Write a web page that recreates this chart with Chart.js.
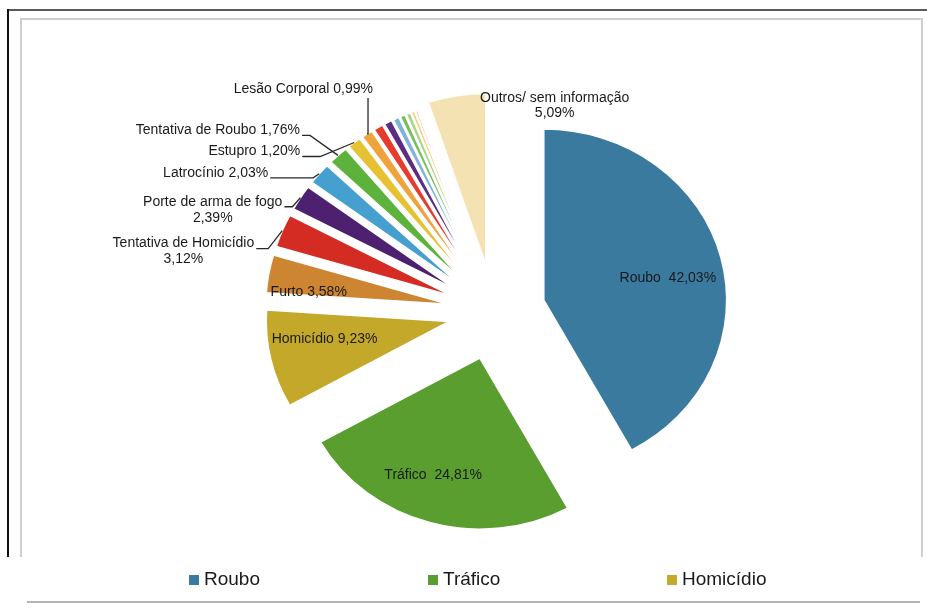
<!DOCTYPE html>
<html>
<head>
<meta charset="utf-8">
<script src="https://cdn.jsdelivr.net/npm/chart.js@4.4.0/dist/chart.umd.min.js"></script>
<style>
  html, body { margin: 0; padding: 0; background: #fff; }
</style>
</head>
<body>
<canvas id="crimesChart" width="927" height="608"></canvas>
<script>
// categorias (as 10 fatias finas sem rótulo não aparecem no gráfico)
const categories = [
  'Roubo', 'Tráfico', 'Homicídio', 'Furto', 'Tentativa de Homicídio',
  'Porte de arma de fogo', 'Latrocínio', 'Tentativa de Roubo', 'Estupro', 'Lesão Corporal',
  'Categoria 11', 'Categoria 12', 'Categoria 13', 'Categoria 14', 'Categoria 15',
  'Categoria 16', 'Categoria 17', 'Categoria 18', 'Categoria 19', 'Categoria 20',
  'Outros/ sem informação'
];
const percentages = [
  42.03, 24.81, 9.23, 3.58, 3.12,
  2.39, 2.03, 1.76, 1.20, 0.99,
  0.85, 0.70, 0.55, 0.45, 0.40,
  0.30, 0.20, 0.15, 0.10, 0.07,
  5.09
];
const legendCategories = ['Roubo', 'Tráfico', 'Homicídio'];

const sliceColors = [
  '#3a7a9f', '#5a9e2f', '#c4a82a', '#cd8531', '#d42b23',
  '#4e2170', '#45a0cf', '#5cb23a', '#e6c131', '#f0a23c',
  '#e63b2d', '#5c2d82', '#7fb3da', '#79bf5a', '#a9d48a',
  '#f4d27a', '#f6b98a', '#f19a9a', '#b49ad0', '#8aa2dc',
  '#f5e2b2'
];

// afastamento das fatias (as três maiores e "Outros" um pouco mais)
const explodeBy = i => (i < 2 || i === 20) ? 48 : 43;
const STRETCH_X = 1.07; // a pizza original é levemente achatada

// posição dos rótulos (fração do raio p/ internos; deslocamento + cotovelo p/ externos)
const labelStyle = {
  0: { inside: 0.70, dy: 8, sep: '  ' },
  1: { inside: 0.71, dx: -11, sep: '  ' },
  2: { inside: 0.67, dx: -5, dy: -8 },
  3: { inside: 0.75, dx: -5, dy: 11 },
  4: { dx: -26, dy: 18, elbow: 12, wrap: true },
  5: { dx: -16, dy: 9, elbow: 8, wrap: true },
  6: { dx: -49, dy: 4, elbow: 43 },
  7: { dx: -36, dy: -20, elbow: 8 },
  8: { dx: -52, dy: 14, elbow: 18 },
  9: { dx: 1, dy: -36, above: true },
  20: { dx: 98, dy: 2, wrap: true, plain: true }
};

const fmt = v => v.toFixed(2).replace('.', ',') + '%';

const explodePlugin = {
  id: 'explode',
  afterDatasetsUpdate(chart) {
    chart.getDatasetMeta(0).data.forEach((arc, i) => {
      const mid = (arc.startAngle + arc.endAngle) / 2;
      arc.x += Math.cos(mid) * explodeBy(i);
      arc.y += Math.sin(mid) * explodeBy(i);
    });
  }
};

const centerX = chart => (chart.chartArea.left + chart.chartArea.right) / 2;

const stretchPlugin = {
  id: 'stretch',
  beforeDatasetsDraw(chart) {
    const ctx = chart.ctx;
    const cx = centerX(chart);
    ctx.save();
    ctx.translate(cx, 0);
    ctx.scale(STRETCH_X, 1);
    ctx.translate(-cx, 0);
  },
  afterDatasetsDraw(chart) {
    chart.ctx.restore();
  }
};

const framePlugin = {
  id: 'frame',
  beforeDraw(chart) {
    const ctx = chart.ctx;
    ctx.save();
    ctx.fillStyle = '#fff';
    ctx.fillRect(0, 0, chart.width, chart.height);
    ctx.lineWidth = 2;
    ctx.strokeStyle = '#5a5a5a';
    ctx.beginPath(); ctx.moveTo(8, 10); ctx.lineTo(927, 10); ctx.stroke();
    ctx.strokeStyle = '#111';
    ctx.beginPath(); ctx.moveTo(8, 9); ctx.lineTo(8, 557); ctx.stroke();
    ctx.strokeStyle = '#cfcfcf';
    ctx.beginPath(); ctx.moveTo(21, 557); ctx.lineTo(21, 19); ctx.lineTo(922, 19); ctx.lineTo(922, 557); ctx.stroke();
    ctx.strokeStyle = '#b4b4b4';
    ctx.beginPath(); ctx.moveTo(27, 602); ctx.lineTo(920, 602); ctx.stroke();
    ctx.restore();
  }
};

const sliceLabels = {
  id: 'sliceLabels',
  afterDatasetsDraw(chart) {
    const ctx = chart.ctx;
    const arcs = chart.getDatasetMeta(0).data;
    const cx = centerX(chart);
    const sx = x => cx + (x - cx) * STRETCH_X;
    ctx.save();
    ctx.font = '14px "Liberation Sans", Arial, sans-serif';
    ctx.fillStyle = '#1a1a1a';
    ctx.strokeStyle = '#2a2a2a';
    ctx.lineWidth = 1.3;
    ctx.textBaseline = 'middle';
    Object.keys(labelStyle).forEach(key => {
      const i = +key;
      const s = labelStyle[i];
      const p = arcs[i].getProps(['x', 'y', 'startAngle', 'endAngle', 'outerRadius'], true);
      const mid = (p.startAngle + p.endAngle) / 2;
      const value = fmt(percentages[i]);
      const lines = s.wrap ? [categories[i], value] : [categories[i] + (s.sep || ' ') + value];

      if (s.inside) {
        const r = p.outerRadius * s.inside;
        ctx.textAlign = 'center';
        ctx.fillText(lines[0], sx(p.x + Math.cos(mid) * r) + (s.dx || 0), p.y + Math.sin(mid) * r + (s.dy || 0));
        return;
      }
      const ax = sx(p.x + Math.cos(mid) * p.outerRadius);
      const ay = p.y + Math.sin(mid) * p.outerRadius;
      const ex = ax + s.dx;
      const ey = ay + s.dy;

      if (s.plain) {
        ctx.textAlign = 'center';
        lines.forEach((t, n) => ctx.fillText(t, ex, ey + n * 15));
        return;
      }
      if (s.above) {
        ctx.beginPath(); ctx.moveTo(ax, ay); ctx.lineTo(ex, ay); ctx.lineTo(ex, ey); ctx.stroke();
        ctx.textAlign = 'right';
        ctx.fillText(lines[0], ex + 5, ey - 9);
        return;
      }
      ctx.beginPath();
      ctx.moveTo(ax, ay);
      ctx.lineTo(ex + s.elbow, ey);
      ctx.lineTo(ex, ey);
      ctx.stroke();
      const w = Math.max(...lines.map(t => ctx.measureText(t).width));
      const right = ex - 2;
      ctx.textAlign = 'center';
      lines.forEach((t, n) => ctx.fillText(t, right - w / 2, ey - 5 + n * 16));
    });
    ctx.restore();
  }
};

const bottomLegend = {
  id: 'bottomLegend',
  afterDraw(chart, args, opts) {
    const ctx = chart.ctx;
    ctx.save();
    ctx.font = '19px "Liberation Sans", Arial, sans-serif';
    ctx.textBaseline = 'middle';
    ctx.textAlign = 'left';
    legendCategories.forEach((name, n) => {
      const i = categories.indexOf(name);
      const bx = opts.left + n * opts.step;
      ctx.fillStyle = sliceColors[i];
      ctx.fillRect(bx, opts.y - 5, 10, 10);
      ctx.fillStyle = '#1a1a1a';
      ctx.fillText(name, bx + 15, opts.y);
    });
    ctx.restore();
  }
};

const ctx = document.getElementById('crimesChart').getContext('2d');
const crimesChart = new Chart(ctx, {
  type: 'pie',
  data: {
    labels: categories,
    datasets: [{
      data: percentages,
      backgroundColor: sliceColors,
      borderColor: '#ffffff',
      borderWidth: 1.5
    }]
  },
  options: {
    responsive: false,
    animation: false,
    radius: 171,
    layout: { padding: { left: 61, right: 0, top: 16, bottom: 0 } },
    plugins: {
      legend: { display: false },
      tooltip: { enabled: false },
      bottomLegend: { left: 189, step: 239, y: 580 }
    }
  },
  plugins: [framePlugin, explodePlugin, stretchPlugin, sliceLabels, bottomLegend]
});
</script>
</body>
</html>
